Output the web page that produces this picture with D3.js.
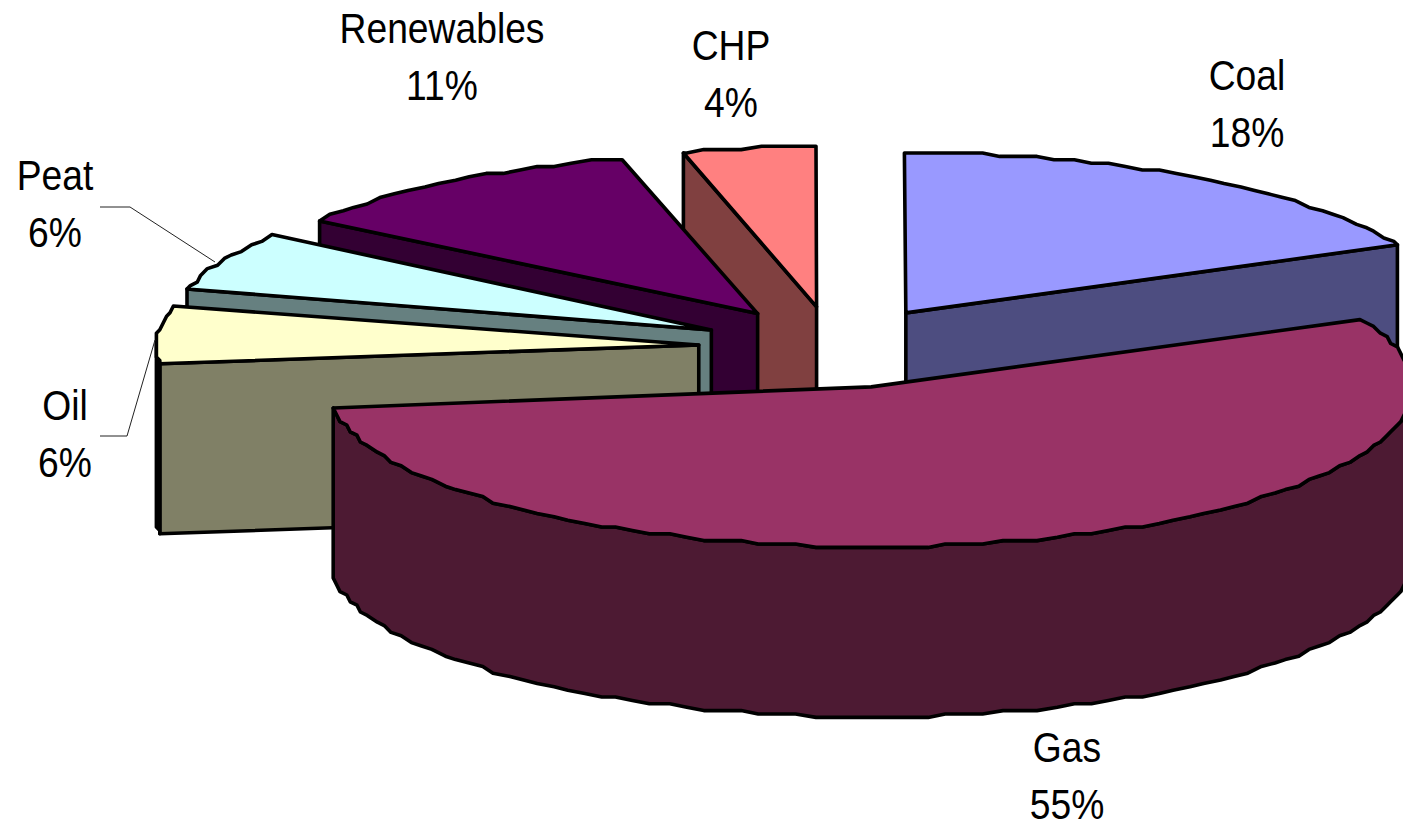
<!DOCTYPE html>
<html>
<head>
<meta charset="utf-8">
<script src="https://cdn.jsdelivr.net/npm/d3@7"></script>
<style>
  html, body { margin: 0; padding: 0; background: #fff; overflow: hidden; }
  svg { display: block; }
  text { font-family: "Liberation Sans", Arial, sans-serif; font-size: 42px; fill: #000; text-anchor: middle; }
</style>
</head>
<body>
<svg width="1403" height="827"></svg>
<script>
"use strict";

var categories = ["Coal", "Gas", "Oil", "Peat", "Renewables", "CHP"];
var shares = [18, 55, 6, 6, 11, 4];

var topColors = ["#9999ff", "#993366", "#ffffcc", "#ccffff", "#660066", "#ff8080"];
var sideColors = ["#4d4d80", "#4d1a33", "#808066", "#668080", "#330033", "#804040"];

// label centres and leader lines, same order as categories
var labelSpots = [[1247, 90], [1067, 762], [65, 420], [55, 190], [442, 43], [731, 60]];
var leaders = {
	Oil: [[100, 436], [127, 436], [155, 340]],
	Peat: [[100, 207], [130, 207], [215, 262]]
};

var svg = d3.select("svg"),
	centre = {x: 833.5, y: 347.5},
	explodeX = 135,
	explodeY = 41,
	depth = 170,
	grid = 3.4,
	step = 2 * Math.PI / 180,
	lineHeight = 57;

// flattened pie: unit circle onto screen offsets
var x = d3.scaleLinear().domain([-1, 1]).range([-542, 542]),
	y = d3.scaleLinear().domain([-1, 1]).range([-160, 160]);

var pie = d3.pie().sort(null).value(function(d) { return d; }),
	path = d3.line(),
	slices = pie(shares);

function snap(v) { return Math.round(v / grid) * grid; }

function rim(c, a) {
	return [snap(c.x + x(Math.sin(a))), snap(c.y + y(-Math.cos(a)))];
}

// points along the rim, coarse so the outline keeps its stepped look
function arc(c, a0, a1) {
	var angles = [a0];
	for (var k = Math.floor(a0 / step) + 1; k * step < a1; k++) angles.push(k * step);
	angles.push(a1);
	return angles.map(function(a) { return rim(c, a); });
}

function drop(pts) {
	return pts.map(function(p) { return [p[0], p[1] + depth]; });
}

function shape(points, fill) {
	svg.append("path")
		.attr("d", path(points) + "Z")
		.attr("fill", fill)
		.attr("stroke", "#000")
		.attr("stroke-width", 3.6)
		.attr("stroke-linejoin", "round");
}

function cutFace(c, a, fill) {
	var face = [[c.x, c.y], rim(c, a)];
	shape(face.concat(drop(face).reverse()), fill);
}

var drawn = slices.map(function(d, i) {
	var mid = (d.startAngle + d.endAngle) / 2;
	return {
		arc: d,
		index: i,
		c: {x: centre.x + explodeX * Math.sin(mid), y: centre.y - explodeY * Math.cos(mid)}
	};
});

// back to front
drawn.sort(function(a, b) { return a.c.y - b.c.y; });

drawn.forEach(function(s) {
	var a0 = s.arc.startAngle,
		a1 = s.arc.endAngle,
		side = sideColors[s.index];

	if (Math.sin(a1) > 1e-6) cutFace(s.c, a1, side);
	if (Math.sin(a0) < -1e-6) cutFace(s.c, a0, side);

	// outer wall shows only on the near half
	var w0 = Math.max(a0, Math.PI / 2),
		w1 = Math.min(a1, 3 * Math.PI / 2);
	if (w1 > w0) {
		var wall = arc(s.c, w0, w1);
		shape(wall.concat(drop(wall).reverse()), side);
	}

	shape([[s.c.x, s.c.y]].concat(arc(s.c, a0, a1)), topColors[s.index]);
});

Object.keys(leaders).forEach(function(k) {
	svg.append("path")
		.attr("d", path(leaders[k]))
		.attr("fill", "none")
		.attr("stroke", "#222")
		.attr("stroke-width", 1);
});

// labels are narrower than the font's natural width
categories.forEach(function(name, i) {
	var g = svg.append("g")
		.attr("transform", "translate(" + labelSpots[i][0] + "," + labelSpots[i][1] + ") scale(0.887,1)");
	g.append("text").text(name);
	g.append("text").attr("y", lineHeight).text(shares[i] + "%");
});
</script>
</body>
</html>
